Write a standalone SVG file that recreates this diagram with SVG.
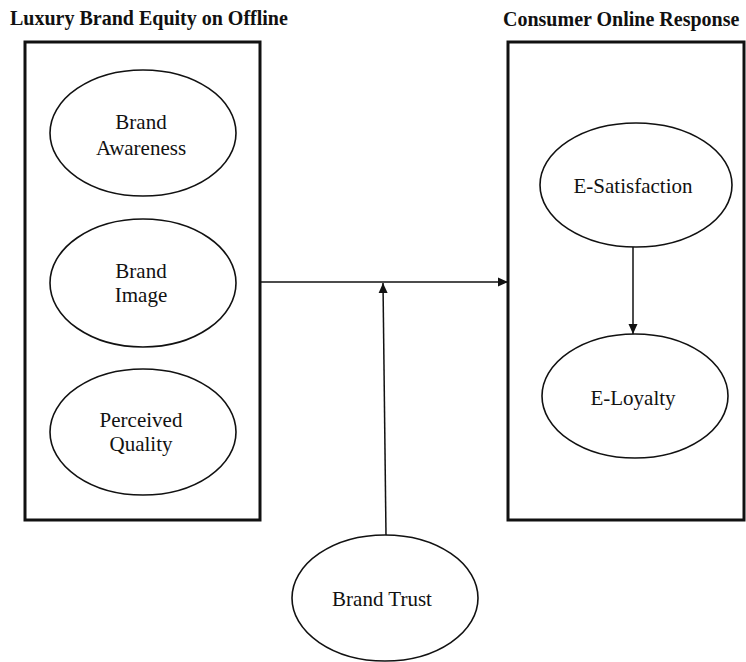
<svg xmlns="http://www.w3.org/2000/svg" width="746" height="662" viewBox="0 0 746 662">
  <style>
    .box { fill: none; stroke: #111; stroke-width: 3; }
    .ell { fill: #fff; stroke: #111; stroke-width: 1.6; }
    .lbl { font-family: "Liberation Serif", "Times New Roman", serif; font-size: 21px; fill: #111; text-anchor: middle; }
    .ttl { font-family: "Liberation Serif", "Times New Roman", serif; font-size: 20px; font-weight: bold; fill: #111; }
    .con { fill: none; stroke: #111; stroke-width: 1.5; }
  </style>
  <defs>
    <marker id="arrow" markerUnits="userSpaceOnUse" markerWidth="10" markerHeight="10" viewBox="0 0 10 10" refX="10" refY="5" orient="auto">
      <path d="M0,0.5 L10,5 L0,9.5 Z" fill="#111"/>
    </marker>
  </defs>
  <rect width="746" height="662" fill="#fff"/>

  <g id="group-offline">
    <rect class="box" x="25" y="42" width="235" height="478"/>
    <text class="ttl" x="10" y="25">Luxury Brand Equity on Offline</text>
  </g>
  <g id="group-online">
    <rect class="box" x="508" y="42" width="236" height="478"/>
    <text class="ttl" x="503" y="26">Consumer Online Response</text>
  </g>

  <g id="connectors">
    <line class="con" x1="260" y1="282" x2="508" y2="282" marker-end="url(#arrow)"/>
    <line class="con" x1="386" y1="535" x2="383" y2="283" marker-end="url(#arrow)"/>
    <line class="con" x1="633" y1="247" x2="633" y2="334" marker-end="url(#arrow)"/>
  </g>

  <g id="brand-awareness">
    <ellipse class="ell" cx="143" cy="133" rx="93" ry="63"/>
    <text class="lbl" x="141" y="129">Brand</text>
    <text class="lbl" x="141" y="155">Awareness</text>
  </g>
  <g id="brand-image">
    <ellipse class="ell" cx="143" cy="283" rx="93" ry="64"/>
    <text class="lbl" x="141" y="278">Brand</text>
    <text class="lbl" x="141" y="302">Image</text>
  </g>
  <g id="perceived-quality">
    <ellipse class="ell" cx="143" cy="432" rx="93" ry="63"/>
    <text class="lbl" x="141" y="427">Perceived</text>
    <text class="lbl" x="141" y="451">Quality</text>
  </g>
  <g id="e-satisfaction">
    <ellipse class="ell" cx="636" cy="185" rx="96" ry="62"/>
    <text class="lbl" x="633" y="193">E-Satisfaction</text>
  </g>
  <g id="e-loyalty">
    <ellipse class="ell" cx="635" cy="396" rx="93" ry="62"/>
    <text class="lbl" x="633" y="405">E-Loyalty</text>
  </g>
  <g id="brand-trust">
    <ellipse class="ell" cx="385" cy="598" rx="93" ry="63"/>
    <text class="lbl" x="382" y="606">Brand Trust</text>
  </g>
</svg>
